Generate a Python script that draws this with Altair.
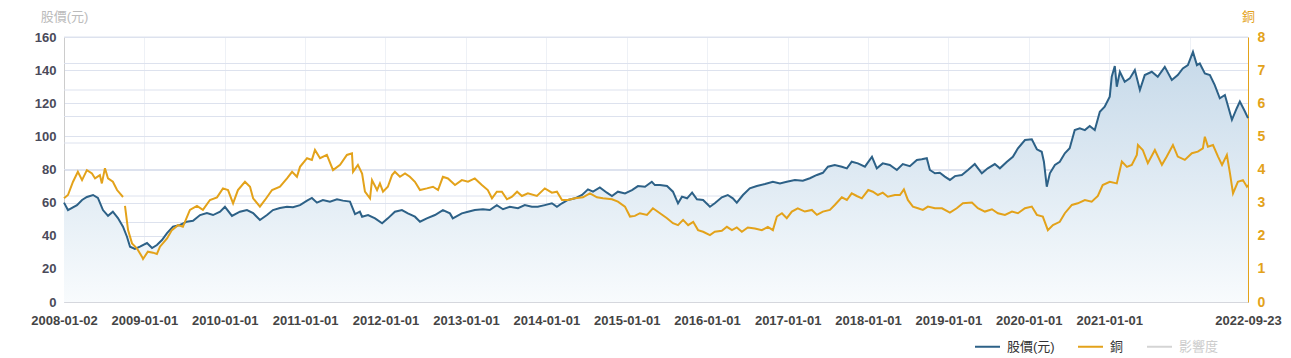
import altair as alt
import pandas as pd

# ---------------- data ----------------
stock_dates = [
    "2008-01-02", "2008-01-20", "2008-03-01", "2008-03-24", "2008-04-15", "2008-05-13", "2008-06-04",
    "2008-06-27", "2008-07-20", "2008-08-11", "2008-09-03", "2008-09-26", "2008-10-14", "2008-10-28",
    "2008-11-19", "2008-12-12",
    "2009-01-13", "2009-02-05", "2009-02-27", "2009-03-22", "2009-04-14", "2009-05-11", "2009-06-12",
    "2009-07-13", "2009-08-10", "2009-09-11", "2009-10-12", "2009-11-09", "2009-12-11",
    "2010-01-02", "2010-02-03", "2010-03-11", "2010-04-12", "2010-05-10", "2010-06-10", "2010-07-12",
    "2010-08-08", "2010-09-09", "2010-10-11", "2010-11-07", "2010-12-09",
    "2011-01-10", "2011-02-01", "2011-02-24", "2011-03-23", "2011-04-24", "2011-05-26", "2011-06-22",
    "2011-07-24", "2011-08-16", "2011-09-07", "2011-09-17", "2011-10-14", "2011-11-15", "2011-12-17",
    "2012-01-12", "2012-02-13", "2012-03-16", "2012-04-12", "2012-05-14", "2012-06-06", "2012-07-07",
    "2012-08-13", "2012-09-18", "2012-10-20", "2012-11-02", "2012-12-13",
    "2013-01-10", "2013-02-10", "2013-03-19", "2013-04-19", "2013-05-21", "2013-06-18", "2013-07-19",
    "2013-08-25", "2013-09-25", "2013-10-27", "2013-11-23", "2013-12-25",
    "2014-01-26", "2014-02-18", "2014-03-13", "2014-04-09", "2014-05-11", "2014-06-12", "2014-07-09",
    "2014-08-01", "2014-09-01", "2014-10-03", "2014-10-26", "2014-11-22", "2014-12-24",
    "2015-01-25", "2015-02-21", "2015-03-25", "2015-04-25", "2015-05-09", "2015-06-01", "2015-07-03",
    "2015-07-30", "2015-08-22", "2015-09-09", "2015-10-02", "2015-10-25", "2015-11-16", "2015-12-14",
    "2016-01-14", "2016-02-05", "2016-03-08", "2016-04-04", "2016-04-27", "2016-05-15", "2016-06-12",
    "2016-07-13", "2016-08-14", "2016-09-20", "2016-10-26", "2016-11-27", "2016-12-28",
    "2017-02-03", "2017-03-11", "2017-04-12", "2017-05-14", "2017-06-10", "2017-07-03", "2017-08-03",
    "2017-09-04", "2017-09-27", "2017-10-19", "2017-11-16", "2017-12-18",
    "2018-01-19", "2018-02-10", "2018-03-09", "2018-04-10", "2018-05-12", "2018-06-08", "2018-07-10",
    "2018-08-11", "2018-09-02", "2018-09-25", "2018-10-09", "2018-11-01", "2018-11-23", "2018-12-16",
    "2019-01-08", "2019-01-31", "2019-03-03", "2019-03-31", "2019-05-01", "2019-06-02", "2019-06-29",
    "2019-07-31", "2019-08-23", "2019-09-24", "2019-10-21", "2019-11-13", "2019-12-15",
    "2020-01-15", "2020-02-07", "2020-02-29", "2020-03-10", "2020-03-23", "2020-04-06", "2020-04-29",
    "2020-05-21", "2020-06-13", "2020-07-05", "2020-07-28", "2020-08-20", "2020-09-12", "2020-10-04",
    "2020-10-27", "2020-11-19", "2020-12-11",
    "2021-01-03", "2021-01-12", "2021-01-26", "2021-02-04", "2021-02-18", "2021-03-12", "2021-04-04",
    "2021-04-27", "2021-05-20", "2021-06-11", "2021-07-13", "2021-08-09", "2021-09-10", "2021-10-12",
    "2021-11-08", "2021-12-01", "2021-12-24",
    "2022-01-16", "2022-02-03", "2022-02-16", "2022-03-11", "2022-04-03", "2022-04-25", "2022-05-18",
    "2022-06-10", "2022-07-12", "2022-08-03", "2022-08-17", "2022-09-09", "2022-09-23",
]
stock_vals = [
    60, 55.5, 58.5, 61.6, 63.4, 64.6, 62.8, 55.5, 52, 54.5, 50.7, 45.5, 39.4, 33.4, 32, 33.4,
    35.6, 32.6, 34.4, 37.4, 41.6, 45.5, 46.5, 48.5, 49, 52.5, 53.7, 52.5, 54.5,
    57.5, 52, 54.5, 55.5, 53.7, 49.5, 52.5, 55.5, 56.7, 57.5, 57.2, 58.5,
    61.2, 62.8, 60, 61.6, 60.6, 62, 61.2, 60.6, 53, 54.5, 51.5, 52.5, 50.5, 47.5,
    50.5, 54.5, 55.5, 53.5, 51.5, 48.5, 50.5, 52.5, 55.5, 53.5, 50.5, 53.5,
    54.5, 55.5, 56, 55.5, 58.5, 56, 57.5, 56.6, 58.5, 57.5, 57.5, 58.5,
    59.6, 57.5, 59.6, 61.6, 62.6, 64.6, 68, 66.6, 69.2, 66, 64, 66.6, 65.6,
    67.6, 70, 69.6, 72.6, 70.6, 70.6, 70, 66.6, 59.6, 63.6, 62.6, 66, 62, 61.6,
    57.5, 59.6, 63.2, 64.6, 62.6, 60, 64.6, 68.6, 70, 71.2, 72.6, 71.6, 72.6,
    73.6, 73.2, 74.7, 76.7, 78, 81.7, 82.7, 81.7, 80.7, 84.7, 83.7, 81.7,
    87.7, 80.7, 83.7, 82.7, 79.7, 83.3, 82, 85.7, 86.2, 86.8, 79.7, 77.7, 78, 75.7,
    73.7, 76, 76.7, 79.7, 83.3, 77.7, 80.7, 83.3, 80.7, 84.7, 87.7, 92.8, 97.8,
    98.2, 92.2, 90.7, 84.7, 69.6, 77.7, 82.7, 84.7, 89.8, 92.8, 103.8, 104.9, 103.8, 106.3,
    103.8, 114.9, 117.9,
    124, 136, 142.5, 130, 139, 133, 135, 140, 128, 137, 139, 136, 142, 134, 137, 141, 143,
    151, 143, 144, 138, 137, 131, 123, 125, 110, 117, 121, 115, 111,
]

cu_dates = [
    "2008-01-02", "2008-01-20", "2008-02-12", "2008-03-05", "2008-03-24", "2008-04-15", "2008-05-08",
    "2008-05-22", "2008-06-13", "2008-06-22", "2008-07-06", "2008-07-20", "2008-08-11", "2008-08-30",
    "2008-09-12", "2008-09-26",
    "2008-10-05", "2008-10-19", "2008-11-06", "2008-11-28", "2008-12-21", "2008-12-26",
    "2009-01-17", "2009-02-09", "2009-02-27", "2009-03-13", "2009-04-14", "2009-05-06", "2009-06-03",
    "2009-06-25", "2009-07-27", "2009-08-28", "2009-09-24", "2009-10-26", "2009-11-27", "2009-12-24",
    "2010-01-16", "2010-02-08", "2010-03-02", "2010-04-03", "2010-04-26", "2010-05-10", "2010-06-10",
    "2010-07-03", "2010-08-04", "2010-09-09", "2010-10-11", "2010-11-03", "2010-11-25", "2010-12-09",
    "2011-01-10", "2011-02-01", "2011-02-15", "2011-03-10", "2011-04-10", "2011-05-08", "2011-06-09",
    "2011-07-10", "2011-08-02", "2011-08-07", "2011-08-29", "2011-09-17", "2011-09-30", "2011-10-23",
    "2011-11-01", "2011-11-24", "2011-12-07", "2011-12-21",
    "2012-01-12", "2012-01-31", "2012-02-13", "2012-03-07", "2012-03-30", "2012-04-21", "2012-05-14",
    "2012-06-06", "2012-07-07", "2012-08-04", "2012-08-27", "2012-09-18", "2012-10-11", "2012-11-12",
    "2012-12-13",
    "2013-01-10", "2013-02-10", "2013-03-14", "2013-04-10", "2013-04-29", "2013-05-21", "2013-06-13",
    "2013-07-06", "2013-07-29", "2013-08-21", "2013-09-12", "2013-10-09", "2013-11-19", "2013-12-25",
    "2014-01-26", "2014-02-18", "2014-03-13", "2014-04-09", "2014-05-11", "2014-06-16", "2014-07-18",
    "2014-08-19", "2014-09-15", "2014-10-26", "2014-11-22", "2014-12-24",
    "2015-01-16", "2015-02-07", "2015-03-02", "2015-04-03", "2015-04-30", "2015-06-01", "2015-07-03",
    "2015-07-30", "2015-08-22", "2015-09-14", "2015-10-07", "2015-10-30", "2015-11-21", "2015-12-14",
    "2016-01-14", "2016-02-05", "2016-03-08", "2016-03-31", "2016-04-23", "2016-05-15", "2016-06-07",
    "2016-07-04", "2016-08-05", "2016-09-06", "2016-10-03", "2016-10-26", "2016-11-13", "2016-12-06",
    "2016-12-28",
    "2017-01-20", "2017-02-16", "2017-03-20", "2017-04-21", "2017-05-14", "2017-06-10", "2017-07-12",
    "2017-08-03", "2017-09-04", "2017-09-27", "2017-10-19", "2017-11-11", "2017-12-04",
    "2018-01-02", "2018-01-23", "2018-02-15", "2018-03-09", "2018-04-01", "2018-05-03", "2018-05-26",
    "2018-06-13", "2018-07-01", "2018-07-24", "2018-08-16", "2018-09-07", "2018-09-30", "2018-11-01",
    "2018-12-03",
    "2019-01-08", "2019-02-08", "2019-03-08", "2019-04-18", "2019-05-15", "2019-06-16", "2019-07-18",
    "2019-08-14", "2019-09-15", "2019-10-17", "2019-11-13", "2019-12-15",
    "2020-01-15", "2020-02-07", "2020-03-05", "2020-03-28", "2020-04-20", "2020-05-21", "2020-06-13",
    "2020-07-15", "2020-08-11", "2020-09-12", "2020-10-13", "2020-11-10", "2020-12-02",
    "2021-01-03", "2021-02-04", "2021-02-27", "2021-03-22", "2021-04-13", "2021-05-06", "2021-05-11",
    "2021-06-02", "2021-06-25", "2021-07-27", "2021-08-28", "2021-09-19", "2021-10-17", "2021-11-08",
    "2021-12-10",
    "2022-01-11", "2022-02-07", "2022-03-02", "2022-03-11", "2022-03-25", "2022-04-17", "2022-05-10",
    "2022-05-28", "2022-06-19", "2022-07-03", "2022-07-17", "2022-08-08", "2022-08-31", "2022-09-18",
    "2022-09-23",
]
cu_vals = [
    3.13, 3.23, 3.63, 3.93, 3.68, 3.98, 3.88, 3.73, 3.83, 3.58, 4.04, 3.73, 3.63, 3.38, 3.28, 3.17,
    2.9, 2.17, 1.77, 1.62, 1.37, 1.3,
    1.52, 1.49, 1.45, 1.67, 1.92, 2.17, 2.32, 2.27, 2.78, 2.9, 2.78, 3.08, 3.16, 3.43,
    3.38, 2.98, 3.38, 3.63, 3.48, 3.13, 2.88, 3.08, 3.38, 3.48, 3.73, 3.93, 3.78, 4.08,
    4.34, 4.29, 4.59, 4.34, 4.44, 3.98, 4.14, 4.44, 4.49, 3.93, 4.14, 3.88, 3.33, 3.13,
    3.68, 3.38, 3.58, 3.33,
    3.48, 3.83, 3.93, 3.78, 3.88, 3.78, 3.63, 3.38, 3.43, 3.48, 3.38, 3.78, 3.73, 3.53, 3.68,
    3.63, 3.73, 3.53, 3.38, 3.13, 3.33, 3.33, 3.1, 3.18, 3.33, 3.2, 3.28, 3.2, 3.43,
    3.3, 3.33, 3.08, 3.08, 3.13, 3.16, 3.28, 3.16, 3.13, 3.1, 3.03, 2.88,
    2.58, 2.6, 2.68, 2.63, 2.83, 2.68, 2.53, 2.38, 2.32, 2.48, 2.32, 2.42, 2.17, 2.12,
    2.02, 2.12, 2.15, 2.27, 2.17, 2.25, 2.12, 2.25, 2.22, 2.17, 2.27, 2.17, 2.58, 2.68, 2.53,
    2.73, 2.83, 2.73, 2.78, 2.63, 2.73, 2.78, 2.93, 3.16, 3.08, 3.28, 3.2, 3.13,
    3.38, 3.33, 3.23, 3.3, 3.18, 3.23, 3.23, 3.4, 3.08, 2.88, 2.83, 2.78, 2.88, 2.83, 2.83,
    2.7, 2.83, 2.98, 3.0, 2.83, 2.73, 2.8, 2.68, 2.63, 2.73, 2.68, 2.83,
    2.88, 2.63, 2.58, 2.17, 2.32, 2.42, 2.68, 2.93, 2.98, 3.08, 3.03, 3.2, 3.53,
    3.63, 3.58, 4.24, 4.08, 4.14, 4.44, 4.74, 4.59, 4.19, 4.59, 4.14, 4.39, 4.74, 4.39, 4.29,
    4.49, 4.54, 4.64, 4.99, 4.69, 4.74, 4.39, 4.14, 4.44, 3.89, 3.28, 3.63, 3.68, 3.48, 3.53,
]
cu_gap_start = "2008-10-01"   # copper line is broken here in the reference

series_names = ["股價(元)", "銅", "影響度"]
series_colors = ["#2d6187", "#e3a21a", "#d4d4d4"]
left_ticks = [0, 20, 40, 60, 80, 100, 120, 140, 160]
right_ticks = [0, 1, 2, 3, 4, 5, 6, 7, 8]
grid2_levels = list(range(11))
x_tick_dates = [
    "2008-01-02", "2009-01-01", "2010-01-01", "2011-01-01", "2012-01-01", "2013-01-01", "2014-01-01",
    "2015-01-01", "2016-01-01", "2017-01-01", "2018-01-01", "2019-01-01", "2020-01-01", "2021-01-01",
    "2022-01-01", "2022-09-23",
]
hidden_label_dates = ["2022-01-01"]

# ---------------- build tables ----------------
stock_df = pd.DataFrame({"date": pd.to_datetime(stock_dates), "value": stock_vals,
                         "series": series_names[0]})
cu_df = pd.DataFrame({"date": pd.to_datetime(cu_dates), "value": cu_vals, "series": series_names[1]})
cu_df["seg"] = (cu_df["date"] >= pd.Timestamp(cu_gap_start)).astype(int)
grid_df = pd.DataFrame({"level": grid2_levels})


def dt(s):
    y, m, d = (int(p) for p in s.split("-"))
    return alt.DateTime(year=y, month=m, date=d)


FONT = "Liberation Sans, Noto Sans CJK TC, sans-serif"
GRID = "#dde2ee"
hide_test = " || ".join(f"timeFormat(datum.value, '%Y-%m-%d') == '{h}'" for h in hidden_label_dates)

x_enc = alt.X(
    "date:T",
    scale=alt.Scale(domain=[dt(x_tick_dates[0]), dt(x_tick_dates[-1])], nice=False),
    axis=alt.Axis(
        values=[dt(s) for s in x_tick_dates],
        labelExpr=f"({hide_test}) ? '' : timeFormat(datum.value, '%Y-%m-%d')",
        labelOverlap=False, labelFlush=False, labelBound=False,
        grid=True, gridColor="#eef1f6", ticks=False,
        domainColor="#cccccc", labelColor="#444444", labelFont=FONT,
        labelFontSize=13, labelFontWeight="bold", labelPadding=12, title=None,
    ),
    title=None,
)

grid2 = alt.Chart(grid_df).mark_rule(color=GRID, strokeWidth=1).encode(
    y=alt.Y("level:Q", scale=alt.Scale(domain=[0, 10], nice=False), axis=None)
)

area = alt.Chart(stock_df).mark_area(
    color=alt.Gradient(
        gradient="linear",
        stops=[alt.GradientStop(color="#c6d9e9", offset=0),
               alt.GradientStop(color="#f8fbfd", offset=1)],
        x1=1, x2=1, y1=0, y2=1,
    )
).encode(
    x=x_enc,
    y=alt.Y("value:Q", scale=alt.Scale(domain=[0, 160], nice=False), axis=None),
)

color_enc = alt.Color(
    "series:N",
    scale=alt.Scale(domain=series_names, range=series_colors),
    legend=alt.Legend(
        title=None, orient="none", legendX=910, legendY=296, direction="horizontal",
        symbolType="stroke", symbolSize=625, symbolStrokeWidth=2,
        labelFont=FONT, labelFontSize=13,
        labelColor={"expr": f"datum.label == '{series_names[2]}' ? '#cccccc' : '#333333'"},
        columnPadding=19, labelOffset=6,
    ),
)

stock_line = alt.Chart(stock_df).mark_line(strokeWidth=2).encode(
    x=x_enc,
    y=alt.Y(
        "value:Q",
        scale=alt.Scale(domain=[0, 160], nice=False),
        axis=alt.Axis(
            orient="left", values=left_ticks, grid=True, gridColor=GRID, ticks=False,
            domainColor="#cccccc", labelColor="#4a4a5a", labelFont=FONT, labelFontSize=13,
            labelFontWeight="bold", labelPadding=8,
            title=series_names[0], titleAngle=0, titleX=0, titleY=-21, titleAlign="center",
            titleBaseline="middle", titleColor="#bbbbbb", titleFont=FONT, titleFontSize=13,
            titleFontWeight="normal",
        ),
        title=series_names[0],
    ),
    color=color_enc,
)

cu_line = alt.Chart(cu_df).mark_line(strokeWidth=2).encode(
    x=x_enc,
    y=alt.Y(
        "value:Q",
        scale=alt.Scale(domain=[0, 8], nice=False),
        axis=alt.Axis(
            orient="right", values=right_ticks, grid=False, ticks=False,
            domainColor="#e3a21a", labelColor="#e3a21a", labelFont=FONT, labelFontSize=14,
            labelFontWeight="bold", labelPadding=9,
            title=series_names[1], titleAngle=0, titleX=0, titleY=-21, titleAlign="center",
            titleBaseline="middle", titleColor="#e3a21a", titleFont=FONT, titleFontSize=13,
            titleFontWeight="normal",
        ),
        title=series_names[1],
    ),
    color=color_enc,
    detail="seg:N",
)

chart = (
    alt.layer(grid2, area, stock_line, cu_line)
    .resolve_scale(y="independent")
    .properties(
        width=1184, height=265,
        autosize=alt.AutoSizeParams(type="none"),
        padding={"left": 64, "top": 37, "right": 43, "bottom": 56},
        background="white",
    )
    .configure_view(stroke=None)
)

chart.save("out.html", embed_options={"renderer": "svg", "actions": False})
